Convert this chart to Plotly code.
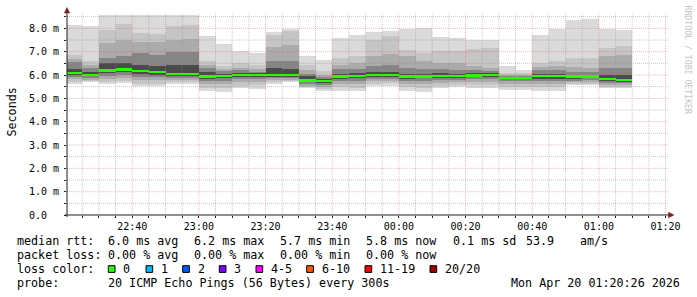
import plotly.graph_objects as go
import pandas as pd

# ---------------- data ----------------
bar_start = pd.date_range("2026-04-19 22:20:00", periods=34, freq="5min")
bar_mid = bar_start + pd.Timedelta(seconds=150)

# smoke layer edges (ms), outermost (u1/d1) to innermost (u5/d5)
u1 = [8.13, 8.08, 8.56, 8.56, 8.56, 8.56, 8.56, 8.56, 7.66, 7.33, 7.01, 6.94, 7.84, 7.97, 6.83, 6.66, 7.59,
      7.73, 7.84, 7.87, 7.99, 8.01, 7.61, 7.59, 7.51, 7.51, 6.40, 6.23, 7.73, 7.99, 8.34, 8.40, 7.99, 7.94]
u2 = [6.87, 6.60, 7.94, 8.20, 7.80, 7.76, 8.08, 8.16, 6.59, 6.37, 6.52, 6.44, 7.73, 7.90, 6.44, 6.16, 6.73,
      6.80, 7.48, 7.66, 7.08, 6.94, 7.01, 7.01, 7.13, 7.16, 6.09, 6.09, 6.51, 6.59, 6.73, 6.73, 7.16, 7.23]
u3 = [6.70, 6.44, 7.37, 7.51, 7.40, 7.40, 7.50, 7.55, 6.45, 6.25, 6.30, 6.25, 7.20, 7.30, 6.20, 6.02, 6.45,
      6.50, 6.80, 6.90, 6.80, 6.60, 6.52, 6.52, 6.40, 6.30, 6.00, 6.00, 6.35, 6.40, 6.35, 6.28, 6.80, 6.87]
u4 = [6.55, 6.30, 6.73, 6.80, 6.94, 6.87, 7.00, 7.00, 6.30, 6.16, 6.20, 6.15, 6.59, 6.59, 6.05, 5.92, 6.25,
      6.25, 6.40, 6.44, 6.30, 6.25, 6.25, 6.20, 6.20, 6.16, 5.96, 5.95, 6.20, 6.20, 6.15, 6.12, 6.30, 6.30]
u5 = [6.25, 6.12, 6.50, 6.50, 6.45, 6.40, 6.45, 6.45, 6.15, 6.05, 6.10, 6.08, 6.30, 6.25, 5.94, 5.83, 6.05,
      6.08, 6.15, 6.15, 6.06, 6.05, 6.08, 6.05, 6.08, 6.08, 5.93, 5.92, 6.05, 6.05, 6.02, 6.02, 6.00, 6.00]
median = [6.08, 6.00, 6.20, 6.24, 6.18, 6.14, 6.03, 6.03, 5.93, 5.95, 6.00, 5.99, 6.00, 6.00, 5.77, 5.75, 5.93,
          5.95, 5.99, 5.99, 5.93, 5.94, 5.96, 5.96, 5.98, 5.99, 5.88, 5.87, 5.96, 5.97, 5.94, 5.94, 5.84, 5.80]
d5 = [5.98, 5.94, 6.08, 6.12, 6.05, 6.02, 5.95, 5.95, 5.85, 5.87, 5.92, 5.92, 5.93, 5.93, 5.68, 5.66, 5.84,
      5.86, 5.92, 5.92, 5.85, 5.86, 5.88, 5.89, 5.90, 5.91, 5.82, 5.82, 5.85, 5.85, 5.85, 5.86, 5.75, 5.72]
d4 = [5.90, 5.88, 5.96, 5.98, 5.92, 5.90, 5.88, 5.88, 5.75, 5.75, 5.82, 5.84, 5.86, 5.86, 5.60, 5.58, 5.75,
      5.75, 5.84, 5.85, 5.75, 5.75, 5.78, 5.80, 5.82, 5.83, 5.75, 5.74, 5.75, 5.75, 5.75, 5.77, 5.66, 5.64]
d3 = [5.82, 5.80, 5.85, 5.88, 5.80, 5.78, 5.80, 5.80, 5.60, 5.60, 5.70, 5.72, 5.78, 5.80, 5.52, 5.50, 5.62,
      5.62, 5.75, 5.76, 5.62, 5.62, 5.66, 5.68, 5.72, 5.72, 5.62, 5.62, 5.62, 5.62, 5.68, 5.70, 5.56, 5.56]
d2 = [5.72, 5.74, 5.70, 5.75, 5.62, 5.62, 5.70, 5.70, 5.45, 5.45, 5.55, 5.58, 5.70, 5.74, 5.48, 5.40, 5.48,
      5.45, 5.62, 5.65, 5.48, 5.45, 5.55, 5.56, 5.58, 5.58, 5.50, 5.50, 5.48, 5.48, 5.60, 5.62, 5.48, 5.50]
d1 = [5.62, 5.68, 5.60, 5.64, 5.51, 5.51, 5.62, 5.62, 5.33, 5.27, 5.44, 5.41, 5.60, 5.70, 5.44, 5.33, 5.33,
      5.30, 5.51, 5.55, 5.33, 5.27, 5.44, 5.47, 5.44, 5.44, 5.37, 5.37, 5.33, 5.33, 5.56, 5.56, 5.44, 5.44]

smoke_colors = ["#dadada", "#c5c5c5", "#ababab", "#858585", "#4a4a4a"]
median_color = "#26ff00"
median_band = 0.10

y_ticks = [0, 1, 2, 3, 4, 5, 6, 7, 8]
y_ticktext = ["0.0\u00a0\u00a0", "1.0 m", "2.0 m", "3.0 m", "4.0 m", "5.0 m", "6.0 m", "7.0 m", "8.0 m"]

rtt_items = ["median rtt:", "6.0 ms avg", "6.2 ms max", "5.7 ms min", "5.8 ms now", "0.1 ms sd", "53.9", "am/s"]
loss_items = ["packet loss:", "0.00 % avg", "0.00 % max", "0.00 % min", "0.00 % now"]
loss_labels = ["0", "1", "2", "3", "4-5", "6-10", "11-19", "20/20"]
loss_colors = ["#26ff00", "#00b8ff", "#0059ff", "#7e00ff", "#ff00ff", "#ff5500", "#ff0000", "#a10000"]
probe_text = "20 ICMP Echo Pings (56 Bytes) every 300s"
date_text = "Mon Apr 20 01:20:26 2026"

# ---------------- layout geometry ----------------
W, H = 697, 297
L, R, T, B = 67, 30, 15, 82
PW, PH = W - L - R, H - T - B
FONT = "DejaVu Sans Mono"


def pxx(x):
    return (x - L) / PW


def pxy(y):
    return (T + PH - y) / PH


fig = go.Figure()

lows = [d1, d2, d3, d4, d5]
highs = [u1, u2, u3, u4, u5]
for lo, hi, col in zip(lows, highs, smoke_colors):
    fig.add_trace(go.Bar(
        x=bar_mid, y=[h - l for h, l in zip(hi, lo)], base=lo, width=300000,
        marker=dict(color=col, line=dict(width=0)), hoverinfo="skip", showlegend=False))

fig.add_trace(go.Bar(
    x=bar_mid, y=[median_band] * len(median), base=[m - median_band / 2 for m in median], width=300000,
    marker=dict(color=median_color, line=dict(width=0)), hoverinfo="skip", showlegend=False))

shapes = []
grid_minor = "rgba(143,143,143,0.5)"
grid_major = "rgba(222,79,79,0.38)"
dash = "1px,1px"

# vertical grid
for t in pd.date_range("2026-04-19 22:25:00", "2026-04-20 01:20:00", freq="5min"):
    col = grid_major if t.minute % 20 == 0 else grid_minor
    shapes.append(dict(type="line", xref="x", yref="y domain", x0=t, x1=t, y0=0, y1=1.01,
                       line=dict(color=col, width=1, dash=dash), layer="above"))
# horizontal grid
for i in range(1, 18):
    v = i * 0.5
    col = grid_major if i % 2 == 0 else grid_minor
    shapes.append(dict(type="line", xref="x domain", yref="y", x0=0, x1=1.003, y0=v, y1=v,
                       line=dict(color=col, width=1, dash=dash), layer="above"))

axis_col = "#1f1f1f"
arrow_col = "#801f1f"
# axis lines
shapes.append(dict(type="line", xref="paper", yref="paper", x0=0, x1=0, y0=pxy(217), y1=pxy(11),
                   line=dict(color=axis_col, width=1), layer="above"))
shapes.append(dict(type="line", xref="paper", yref="paper", x0=pxx(65), x1=pxx(670), y0=0, y1=0,
                   line=dict(color=axis_col, width=1), layer="above"))
# arrows
shapes.append(dict(type="path", xref="paper", yref="paper",
                   path=f"M {pxx(64.3)} {pxy(13)} L {pxx(69.7)} {pxy(13)} L {pxx(67)} {pxy(7.5)} Z",
                   fillcolor=arrow_col, line=dict(color=arrow_col, width=0.5), layer="above"))
shapes.append(dict(type="path", xref="paper", yref="paper",
                   path=f"M {pxx(668.5)} {pxy(212.3)} L {pxx(668.5)} {pxy(217.7)} L {pxx(674)} {pxy(215)} Z",
                   fillcolor=arrow_col, line=dict(color=arrow_col, width=0.5), layer="above"))

annotations = []


def text(x, y, s, size=11.7, anchor="left", color="#000000", angle=0):
    annotations.append(dict(xref="paper", yref="paper", x=pxx(x), y=pxy(y), text=s, showarrow=False,
                            xanchor=anchor, yanchor="middle", textangle=angle, borderpad=0,
                            font=dict(family=FONT, size=size, color=color)))


# legend lines
rtt_x = [16, 107.3, 193.3, 279.3, 365, 451.7, 525, 579.3]
for s, x in zip(rtt_items, rtt_x):
    text(x, 241, s)
loss_x = [16, 107.3, 193.3, 279.3, 365]
for s, x in zip(loss_items, loss_x):
    text(x, 255, s)
text(16, 269, "loss color:")
box_x = [108.3, 146, 182.7, 219.3, 256, 306.7, 365, 430]
for lab, col, bx in zip(loss_labels, loss_colors, box_x):
    shapes.append(dict(type="rect", xref="paper", yref="paper", x0=pxx(bx), x1=pxx(bx + 6.7),
                       y0=pxy(272.4), y1=pxy(265.7), fillcolor=col, line=dict(color="#000000", width=1)))
    text(bx + 14, 269, lab)
text(16, 283, "probe:")
text(107.3, 283, probe_text)
text(681, 283, date_text, anchor="right")

# y title and watermark
text(11, 112.5, "Seconds", angle=-90, anchor="center")
text(687.5, 60, "RRDTOOL / TOBI OETIKER", size=8.2, anchor="center", color="#c4c4c4", angle=90)

fig.update_layout(
    width=W, height=H, margin=dict(l=L, r=R, t=T, b=B, pad=0),
    paper_bgcolor="#ffffff", plot_bgcolor="#ffffff",
    barmode="overlay", bargap=0, showlegend=False,
    shapes=shapes, annotations=annotations,
    font=dict(family=FONT, size=10, color="#000000"),
    xaxis=dict(type="date", range=["2026-04-19 22:20:26", "2026-04-20 01:20:26"],
               tick0="2026-04-19 22:00:00", dtick=1200000, tickformat="%H:%M",
               showgrid=False, zeroline=False, showline=False,
               ticks="outside", ticklen=2, tickcolor=axis_col,
               minor=dict(dtick=300000, ticks="outside", ticklen=2, tickcolor=axis_col, showgrid=False),
               tickfont=dict(family=FONT, size=10, color="#000000"), fixedrange=True),
    yaxis=dict(range=[0, 200 / 23.333], tickvals=y_ticks, ticktext=y_ticktext,
               showgrid=False, zeroline=False, showline=False,
               ticks="outside", ticklen=2, tickcolor=axis_col, ticklabelstandoff=3,
               minor=dict(dtick=0.5, ticks="outside", ticklen=2, tickcolor=axis_col, showgrid=False),
               tickfont=dict(family=FONT, size=10, color="#000000"), fixedrange=True),
)

fig.write_html("out.html")
